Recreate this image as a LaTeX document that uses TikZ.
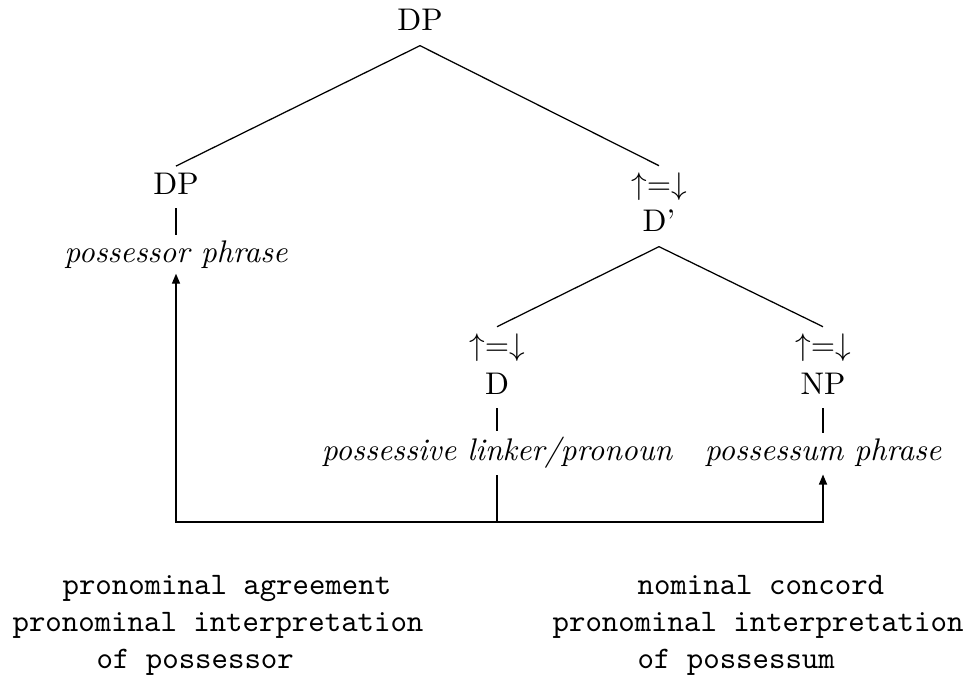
\documentclass[tikz,border=0pt]{standalone}
\usetikzlibrary{arrows.meta}
\begin{document}
\begin{tikzpicture}[x=0.3195pt,y=-0.3195pt,
  every node/.style={inner sep=0pt, anchor=base},
  phrase/.style={font=\itshape},
  note/.style={font=\ttfamily, anchor=base west},
  branch/.style={line width=0.4pt},
  stem/.style={line width=0.8pt, shorten <=4.3pt, shorten >=1.5pt},
  link/.style={line width=0.4pt},
  tip/.style={-{Triangle[length=3.2pt,width=2.6pt]}}]
\useasboundingbox (0,0) rectangle (969,677);

% tree nodes
\node (dp)    at (420,30)  {DP};
\node (dpl)   at (176,194) {DP};
\node[phrase] (possr) at (176,262) {possessor phrase};
\node (ann1)  at (659,194) {$\uparrow$=$\downarrow$};
\node (dbar)  at (659,231) {D'};
\node (ann2)  at (497,355) {$\uparrow$=$\downarrow$};
\node (d)     at (497,394) {D};
\node[phrase] (linker) at (497,460) {possessive linker/pronoun};
\node (ann3)  at (823,355) {$\uparrow$=$\downarrow$};
\node (np)    at (823,394) {NP};
\node[phrase] (possm) at (823,460) {possessum phrase};

% branches meet in one point below each mother node
\draw[branch] ([yshift=-4.8pt]dp.south) -- ([yshift=1.9pt]dpl.north);
\draw[branch] ([yshift=-4.8pt]dp.south) -- ([yshift=1.9pt]ann1.north);
\draw[branch] ([yshift=-4.8pt]dbar.south) -- ([yshift=1.9pt]ann2.north);
\draw[branch] ([yshift=-4.8pt]dbar.south) -- ([yshift=1.9pt]ann3.north);

% stems to the phrases
\draw[stem] (dpl.south) -- (possr.north);
\draw[stem] (d.south) -- (linker.north);
\draw[stem] (np.south) -- (possm.north);

% agreement paths from the linker
\coordinate (join) at (497,522);
\draw[link, shorten <=2.2pt] (linker.south) -- (join);
\draw[link, tip, shorten >=1.6pt] (join) -| (possr.south);
\draw[link, tip, shorten >=2.5pt] (join) -| (possm.south);

% notes
\node[note] (la) at (62,594)  {pronominal agreement};
\node[note] (lb) at (12,631)  {pronominal interpretation};
\node[note] (lc) at (96,668)  {of possessor};
\node[note] (ra) at (637,594) {nominal concord};
\node[note] (rb) at (552,631) {pronominal interpretation};
\node[note] (rc) at (637,668) {of possessum};
\end{tikzpicture}
\end{document}
